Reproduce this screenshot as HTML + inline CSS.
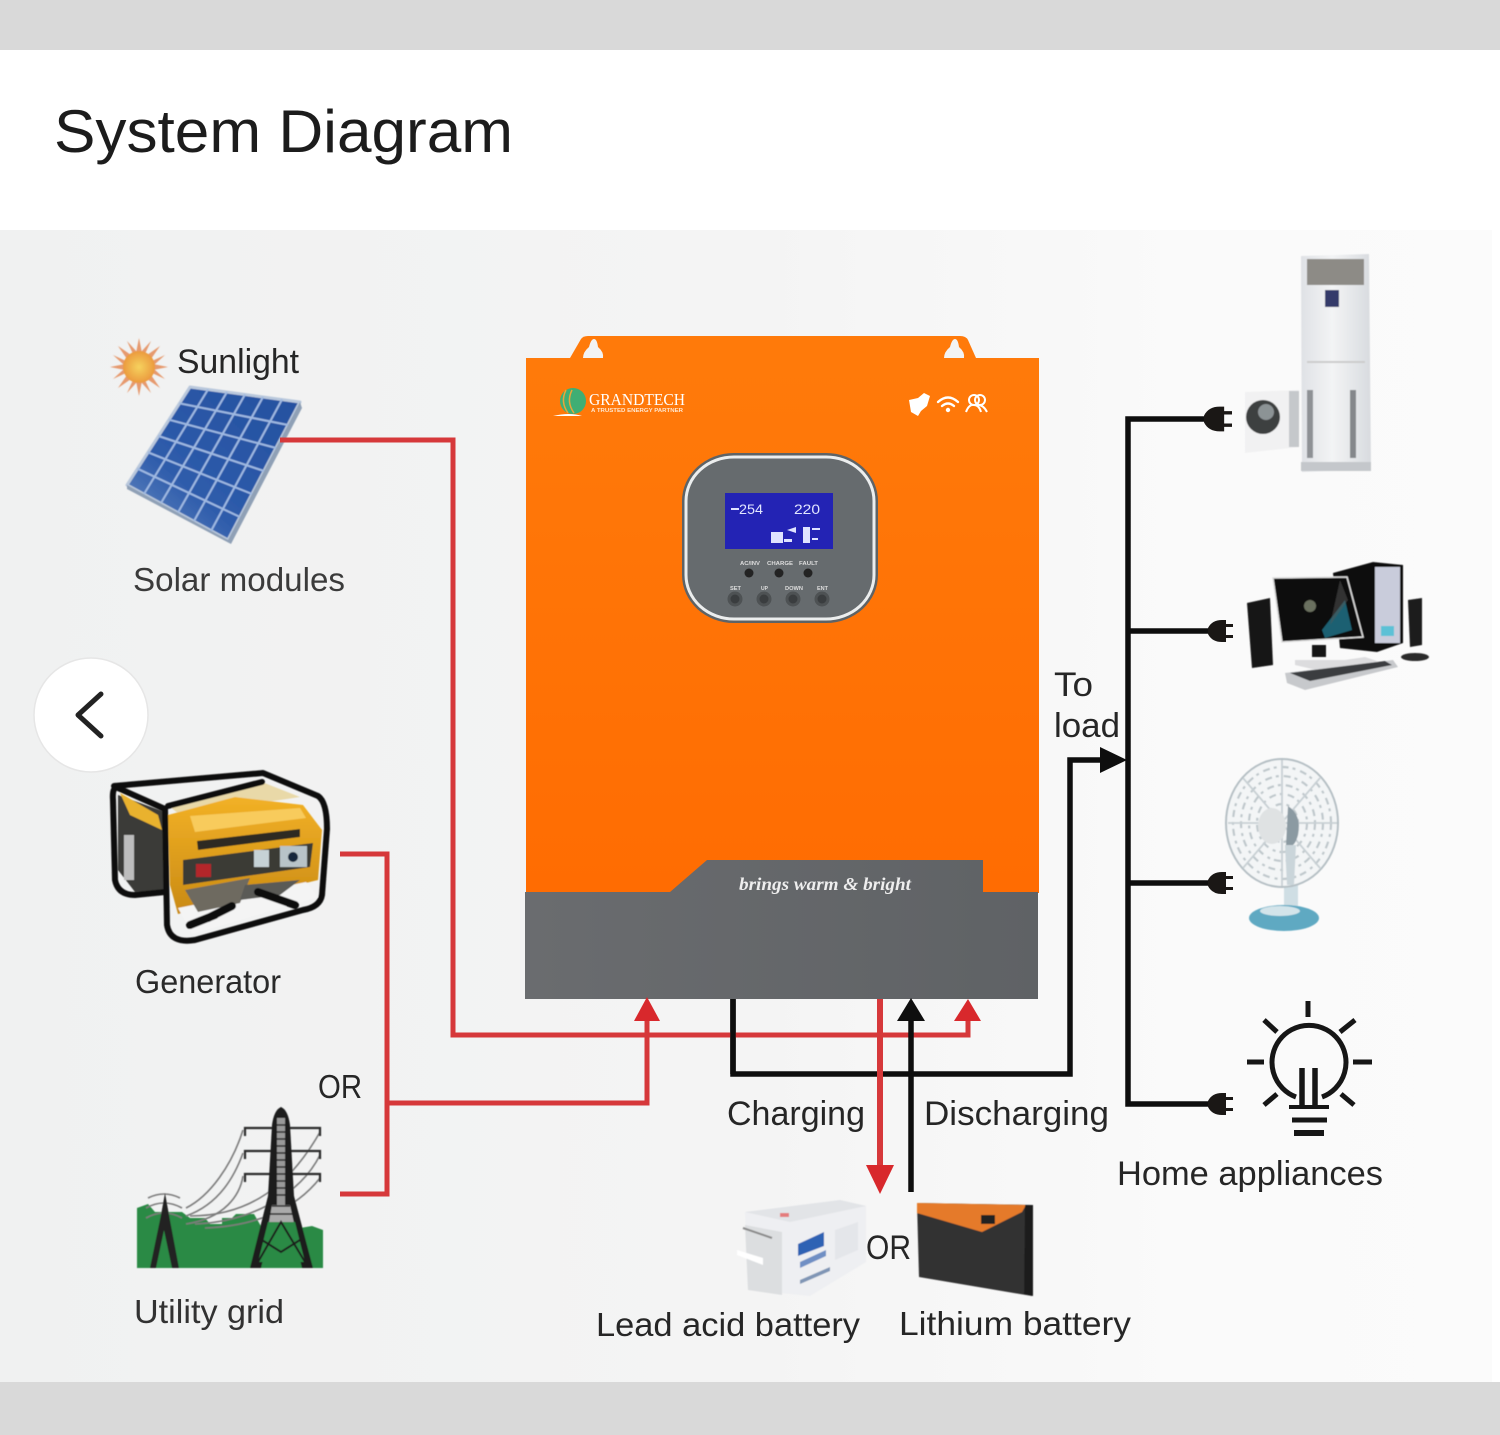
<!DOCTYPE html>
<html><head><meta charset="utf-8"><style>
html,body{margin:0;padding:0;background:#fff}
svg{display:block}
text{font-family:"Liberation Sans",sans-serif;fill:#262626}
</style></head><body>
<svg width="1500" height="1435" viewBox="0 0 1500 1435" xmlns="http://www.w3.org/2000/svg">
<defs>
<linearGradient id="bg" x1="0" y1="0" x2="1" y2="0"><stop offset="0" stop-color="#f0f1f1"/><stop offset=".5" stop-color="#f4f4f4"/><stop offset=".8" stop-color="#fafafa"/><stop offset="1" stop-color="#fbfbfb"/></linearGradient>
<linearGradient id="or" x1="0" y1="0" x2="0" y2="1"><stop offset="0" stop-color="#ff7a0a"/><stop offset="1" stop-color="#ff6c02"/></linearGradient>
<linearGradient id="gy" x1="0" y1="0" x2="1" y2="0"><stop offset="0" stop-color="#6a6c6f"/><stop offset="1" stop-color="#5f6265"/></linearGradient>
<linearGradient id="yl" x1="0" y1="0" x2="0" y2="1"><stop offset="0" stop-color="#f2b126"/><stop offset="1" stop-color="#c98a14"/></linearGradient>
<linearGradient id="wh" x1="0" y1="0" x2="1" y2="0"><stop offset="0" stop-color="#dfe1e5"/><stop offset=".45" stop-color="#f3f4f5"/><stop offset="1" stop-color="#d8dbdf"/></linearGradient>
<linearGradient id="pv" x1="0" y1="1" x2="1" y2="0"><stop offset="0" stop-color="#6c8fc4"/><stop offset=".35" stop-color="#2e5cab"/><stop offset="1" stop-color="#24509f"/></linearGradient>
<radialGradient id="sun"><stop offset="0" stop-color="#f6d25e"/><stop offset="1" stop-color="#eb9a3e"/></radialGradient>
<filter id="b1"><feGaussianBlur stdDeviation="1"/></filter>
<filter id="b05"><feGaussianBlur stdDeviation=".6"/></filter>
<filter id="bt"><feGaussianBlur stdDeviation=".35"/></filter>
<g id="plug"><path d="M0 -3Q4 -11 14 -11H18V-7H25V-4H18V4H25V7H18V11H14Q4 11 0 3Z" fill="#1a1715"/></g>
</defs>
<rect width="1500" height="50" fill="#d9d9d9"/>
<rect y="50" width="1500" height="180" fill="#fff"/>
<rect y="230" width="1492" height="1152" fill="url(#bg)"/>
<rect x="1492" y="230" width="8" height="1152" fill="#fff"/>
<rect y="1382" width="1500" height="53" fill="#d9d9d9"/>

<text x="54" y="152" font-size="60" textLength="459" lengthAdjust="spacingAndGlyphs" style="fill:#1c1c1c">System Diagram</text>

<!-- Sun -->
<g transform="translate(139,367)" filter="url(#b05)">
<g fill="#e69a6e">
<path d="M-3 -14L0 -29L3 -14Z"/><path d="M-3 14L0 29L3 14Z"/><path d="M-14 -3L-29 0L-14 3Z"/><path d="M14 -3L29 0L14 3Z"/>
<path d="M-12 -8L-21 -21L-8 -12Z"/><path d="M12 -8L21 -21L8 -12Z"/><path d="M-12 8L-21 21L-8 12Z"/><path d="M12 8L21 21L8 12Z"/>
<path d="M-6 -13L-12 -26L-2 -15Z"/><path d="M6 -13L12 -26L2 -15Z"/><path d="M-6 13L-12 26L-2 15Z"/><path d="M6 13L12 26L2 15Z"/>
<path d="M-13 -6L-26 -12L-15 -2Z"/><path d="M13 -6L26 -12L15 -2Z"/><path d="M-13 6L-26 12L-15 2Z"/><path d="M13 6L26 12L15 2Z"/>
</g>
<circle r="16" fill="url(#sun)"/>
</g>
<g filter="url(#bt)"><text x="177" y="373" font-size="34" textLength="122" lengthAdjust="spacingAndGlyphs">Sunlight</text></g>
<!-- Solar panel -->
<g filter="url(#b05)">
<path d="M190 387L300 402L228 540L127 485Z" fill="url(#pv)" stroke="#b9c8dc" stroke-width="3" stroke-linejoin="round"/>
<path d="M127 485L228 540L300 402L302 408L231 544L127 489Z" fill="#8fa0b6"/>
<g stroke="#9fb9e2" stroke-width="2" fill="none">
<path d="M208 389.5L144 494M227 392L161 503M245 394.5L178 512.5M263 397L194 521M282 399.5L211 531"/>
<path d="M179.5 403.3L288 425M169 419.7L276 448M158.5 436L264 471M148 452.3L252 494M137.5 468.7L240 517"/>
</g>
</g>
<g filter="url(#bt)"><text x="133" y="591" font-size="33" textLength="212" lengthAdjust="spacingAndGlyphs" style="fill:#3a3a3a">Solar modules</text></g>

<!-- Back button -->
<circle cx="91" cy="715" r="57" fill="#fff" stroke="#e6e6e6" stroke-width="1.5"/>
<path d="M101 694L78 715L101 736" fill="none" stroke="#222" stroke-width="5" stroke-linecap="round" stroke-linejoin="round"/>

<!-- Generator -->
<g filter="url(#b05)">
<path d="M118 795L165 812L168 890L135 892L118 870Z" fill="#3a3a38"/>
<path d="M120 793L158 815L162 830L130 815Z" fill="#e9b22e"/>
<path d="M124 835H134V880H124Z" fill="#bdbdbd"/>
<path d="M168 805L262 782L300 797L180 815Z" fill="#e9d9a8"/>
<path d="M168 815L235 797L303 805L322 830L318 880L178 914L170 885Z" fill="url(#yl)"/>
<path d="M190 816L300 808L306 818L195 832Z" fill="#f8cb5c"/>
<path d="M197 841L300 829L300 837L198 850Z" fill="#2e2a22"/>
<path d="M183 860L313 843L310 867L183 885Z" fill="#3b3a36"/>
<rect x="254" y="850" width="15" height="17" fill="#c6d2d6"/>
<rect x="280" y="846" width="27" height="21" fill="#b8c3c8"/><circle cx="293" cy="857" r="5" fill="#14283a"/>
<rect x="196" y="864" width="15" height="13" fill="#b3262a"/>
<path d="M178 908L306 882L318 897L192 934Z" fill="#f4f4f4"/>
<path d="M185 890L250 878L240 903L198 912Z" fill="#6e6a60"/>
<path d="M245 885L300 880L280 895L240 900Z" fill="#5a5a56"/>
<g fill="none" stroke="#111" stroke-width="6" stroke-linejoin="round" stroke-linecap="round">
<path d="M114 786L263 773L318 796Q327 802 327 829L322 895Q320 907 303 910L195 940Q170 944 167 925L165 809L118 788Q112 786 113 800L115 880Q118 895 135 895L165 892"/>
<path d="M168 806L262 782"/>
<path d="M190 925L215 915M258 892L295 905M208 918L232 906" stroke-width="8"/>
</g></g>
<g filter="url(#bt)"><text x="135" y="993" font-size="33" textLength="146" lengthAdjust="spacingAndGlyphs" style="fill:#2a2a2a">Generator</text></g>

<!-- Utility grid -->
<g filter="url(#b05)">
<path d="M137 1268V1208L148 1204L155 1212H182L190 1218H205L210 1224H222V1218H232L236 1214H254L262 1228H300L312 1226L323 1230V1268Z" fill="#2c8a45"/>
<g fill="none" stroke="#7c7c7c" stroke-width="1.6">
<path d="M186 1208C210 1196 232 1165 243 1130M186 1216C220 1204 235 1175 243 1153M186 1224C225 1218 240 1195 243 1176"/>
<path d="M190 1216C250 1216 290 1185 320 1132M195 1224C250 1222 300 1195 320 1155M205 1228C255 1226 295 1210 320 1178"/>
<path d="M146 1208Q164 1198 182 1208M146 1218Q164 1208 182 1218M148 1198Q164 1190 180 1198"/>
</g>
<g fill="none" stroke="#2a2a2a" stroke-width="2.2">
<path d="M320 1136V1128H245V1136M320 1159V1151H245V1159M320 1182V1174H245V1182"/>
</g>
<path d="M281 1107Q274 1110 272 1125L268 1196L250 1268H261L275 1210H288L302 1268H313L294 1196L290 1125Q288 1110 281 1107Z" fill="#1e1e1e"/>
<path d="M277 1118H285V1205H277Z" fill="#999"/>
<path d="M272 1205H290L300 1250H264Z" fill="#aaa"/>
<g stroke="#222" stroke-width="1.5"><path d="M276 1125H286M276 1132H286M276 1139H286M276 1146H286M276 1153H286M276 1160H286M276 1167H286M276 1174H286M276 1181H286M276 1188H286M276 1195H286M272 1206H290M270 1214H293"/></g>
<path d="M268 1222H295L305 1262H258Z" fill="#2c8a45"/>
<path d="M262 1240L281 1252L300 1240M258 1262L281 1222L305 1262" fill="none" stroke="#1e1e1e" stroke-width="2"/>
<path d="M165 1193L161 1215L150 1268H156L164 1230L172 1268H179L169 1215Z" fill="#222"/>
</g>
<g filter="url(#bt)"><text x="134" y="1323" font-size="33" textLength="150" lengthAdjust="spacingAndGlyphs" style="fill:#333">Utility grid</text>
<text x="318" y="1098" font-size="33" textLength="44" lengthAdjust="spacingAndGlyphs">OR</text></g>

<!-- Inverter -->
<path d="M570 358L581 339Q583 336 588 336H960Q966 336 968 340L976 358Z" fill="#ff7a0a"/>
<path d="M583 358Q583 352 589 347Q591 339 594 339Q597 339 598 347Q604 352 603 358Z" fill="#f3f3f3"/>
<path d="M944 358Q944 352 950 347Q952 339 955 339Q958 339 959 347Q965 352 964 358Z" fill="#f3f3f3"/>
<rect x="526" y="358" width="513" height="535" fill="url(#or)"/>
<path d="M525 892H670L707 860H983V892H1038V999H525Z" fill="url(#gy)"/>
<text x="739" y="890" font-size="18" font-style="italic" font-weight="bold" textLength="172" lengthAdjust="spacingAndGlyphs" style="font-family:'Liberation Serif',serif;fill:#eee">brings warm &amp; bright</text>

<!-- logo -->
<path d="M553 416Q570 412 582 416Z" fill="#fff"/>
<circle cx="573" cy="401" r="13" fill="#3fae74"/>
<path d="M566 390Q560 402 568 413M572 390Q566 402 574 413" fill="none" stroke="#e9a53a" stroke-width="1.5"/>
<text x="589" y="405" font-size="16.5" textLength="96" lengthAdjust="spacingAndGlyphs" style="fill:#fff;font-family:'Liberation Serif',serif">GRANDTECH</text>
<text x="591" y="412" font-size="5" font-weight="bold" textLength="92" lengthAdjust="spacingAndGlyphs" style="fill:#ffe6cf">A TRUSTED ENERGY PARTNER</text>
<!-- icons -->
<g fill="#fff">
<path d="M909 400L918 398L924 393L930 396L927 406L921 411L918 416L911 412Z"/>
<g fill="none" stroke="#fff" stroke-width="2.4" stroke-linecap="round"><path d="M938 402Q948 393 958 402M942 406Q948 401 954 406"/></g>
<circle cx="948" cy="410" r="2.2"/>
<g fill="none" stroke="#fff" stroke-width="2"><circle cx="974" cy="400" r="5"/><circle cx="980" cy="400" r="5"/><path d="M966 412Q969 404 974 405Q979 405 981 412M976 405Q983 404 987 412"/></g>
</g>

<!-- panel -->
<rect x="682" y="453" width="196" height="170" rx="52" ry="48" fill="#5e6366"/>
<rect x="686" y="457" width="188" height="162" rx="48" ry="44" fill="#666b6e" stroke="#eceeee" stroke-width="3"/>
<rect x="725" y="493" width="108" height="56" fill="#2323b4"/>
<g fill="#dfe3ff">
<text x="739" y="514" font-size="14" textLength="24" lengthAdjust="spacingAndGlyphs" style="fill:#e2e6ff">254</text>
<text x="794" y="514" font-size="14" textLength="26" lengthAdjust="spacingAndGlyphs" style="fill:#e2e6ff">220</text>
<rect x="731" y="508" width="8" height="2"/>
<rect x="771" y="532" width="12" height="11"/><rect x="784" y="539" width="8" height="3"/>
<path d="M787 530L796 527V533Z"/><rect x="803" y="527" width="7" height="16"/><rect x="812" y="528" width="8" height="2"/><rect x="812" y="538" width="6" height="2"/>
</g>
<text x="740" y="565" font-size="5" font-weight="bold" textLength="20" lengthAdjust="spacingAndGlyphs" style="fill:#ddd">AC/INV</text>
<text x="767" y="565" font-size="5" font-weight="bold" textLength="26" lengthAdjust="spacingAndGlyphs" style="fill:#ddd">CHARGE</text>
<text x="799" y="565" font-size="5" font-weight="bold" textLength="19" lengthAdjust="spacingAndGlyphs" style="fill:#ddd">FAULT</text>
<g fill="#232323"><circle cx="749" cy="573" r="4.5"/><circle cx="779" cy="573" r="4.5"/><circle cx="808" cy="573" r="4.5"/></g>
<text x="730" y="590" font-size="5" font-weight="bold" textLength="11" lengthAdjust="spacingAndGlyphs" style="fill:#ddd">SET</text>
<text x="761" y="590" font-size="5" font-weight="bold" textLength="7" lengthAdjust="spacingAndGlyphs" style="fill:#ddd">UP</text>
<text x="785" y="590" font-size="5" font-weight="bold" textLength="18" lengthAdjust="spacingAndGlyphs" style="fill:#ddd">DOWN</text>
<text x="817" y="590" font-size="5" font-weight="bold" textLength="11" lengthAdjust="spacingAndGlyphs" style="fill:#ddd">ENT</text>
<g fill="#3a3d3f" stroke="#4e5254" stroke-width="3"><circle cx="735" cy="599" r="6"/><circle cx="764" cy="599" r="6"/><circle cx="793" cy="599" r="6"/><circle cx="822" cy="599" r="6"/></g>

<!-- black base wire -->
<g fill="none" stroke="#0e0e0e" stroke-width="5.5">
<path d="M733 999V1074H1070V760H1103"/>
<path d="M1210 419H1128V1104H1210"/>
<path d="M1128 631H1210M1128 883H1210"/>
</g>
<!-- red wires -->
<g fill="none" stroke="#d6383a" stroke-width="5">
<path d="M280 440H453V1035H968V1018"/>
<path d="M340 854H387V1194H340"/>
<path d="M387 1103H647V1018"/>
<path d="M880 999V1170" stroke-width="6"/>
</g>
<g fill="#d8282c">
<path d="M647 997L660 1021H634Z"/>
<path d="M968 999L981 1021H954Z"/>
<path d="M880 1194L866 1165H894Z"/>
</g>
<!-- black over red -->
<g fill="none" stroke="#0e0e0e" stroke-width="5.5">
<path d="M733 999V1074"/>
<path d="M911 1018V1192"/>
</g>
<g fill="#0e0e0e">
<path d="M911 998L925 1021H897Z"/>
<path d="M1127 760L1100 747V773Z"/>
</g>
<use href="#plug" transform="translate(1204,419) scale(1.12)"/>
<use href="#plug" x="1208" y="631"/>
<use href="#plug" x="1208" y="883"/>
<use href="#plug" x="1208" y="1104"/>

<g filter="url(#bt)">
<text x="1054" y="696" font-size="34" textLength="39" lengthAdjust="spacingAndGlyphs">To</text>
<text x="1054" y="737" font-size="34" textLength="66" lengthAdjust="spacingAndGlyphs">load</text>
<text x="727" y="1125" font-size="34" textLength="138" lengthAdjust="spacingAndGlyphs">Charging</text>
<text x="924" y="1125" font-size="34" textLength="185" lengthAdjust="spacingAndGlyphs">Discharging</text>
</g>

<!-- Lead battery -->
<g filter="url(#b05)">
<path d="M745 1212L840 1200L866 1206V1262L810 1296L748 1290Z" fill="#eeeff2"/>
<path d="M745 1212L840 1200L866 1206L790 1222Z" fill="#e2e4e7"/>
<path d="M745 1225L782 1232V1295L748 1290Z" fill="#dcdee0"/>
<path d="M743 1228L772 1238" stroke="#8a8a8a" stroke-width="2"/>
<path d="M737 1250L763 1258V1265L737 1255Z" fill="#fff"/>
<path d="M798 1244L824 1232V1246L798 1256Z" fill="#2f62b4"/>
<path d="M800 1262L826 1250V1256L800 1268Z" fill="#6f8fc4"/>
<path d="M835 1230L858 1222V1250L835 1260Z" fill="#e4e6ea"/>
<path d="M800 1280L830 1267V1271L800 1284Z" fill="#7f95b5"/>
<rect x="780" y="1213" width="9" height="4" fill="#e47b7b"/>
</g>
<g filter="url(#bt)"><text x="866" y="1259" font-size="34" textLength="45" lengthAdjust="spacingAndGlyphs">OR</text></g>
<!-- Lithium battery -->
<g filter="url(#b05)">
<path d="M917 1203L1032 1205V1296L919 1277Z" fill="#333"/>
<path d="M917 1203L1026 1205L1022 1212L982 1232L917 1213Z" fill="#e57a2a"/>
<path d="M1025 1205H1033V1296L1024 1294Z" fill="#1f1f1f"/>
<rect x="981" y="1215" width="14" height="9" fill="#222"/>
</g>
<g filter="url(#bt)">
<text x="596" y="1336" font-size="33" textLength="264" lengthAdjust="spacingAndGlyphs">Lead acid battery</text>
<text x="899" y="1335" font-size="33" textLength="232" lengthAdjust="spacingAndGlyphs">Lithium battery</text>
</g>

<!-- AC + washer -->
<g filter="url(#b05)">
<path d="M1301 256L1369 254L1371 470L1302 472Z" fill="url(#wh)"/>
<rect x="1307" y="259" width="57" height="26" fill="#8d8b86"/>
<rect x="1325" y="290" width="14" height="17" fill="#363a6a"/>
<rect x="1307" y="361" width="58" height="2" fill="#ccc"/>
<rect x="1307" y="390" width="6" height="68" fill="#8e9195"/>
<rect x="1350" y="390" width="6" height="68" fill="#84878b"/>
<rect x="1301" y="462" width="70" height="9" fill="#c4c7cb"/>
<path d="M1245 392L1299 390V447L1245 453Z" fill="#f1f1f2"/>
<rect x="1289" y="391" width="10" height="56" fill="#c5c8cb"/>
<circle cx="1263" cy="417" r="17" fill="#3c3f40"/><circle cx="1266" cy="412" r="8" fill="#8c9395"/>
</g>
<!-- Computer -->
<g filter="url(#b05)">
<path d="M1333 573L1373 562L1403 565V643L1377 652L1340 648Z" fill="#111"/>
<rect x="1375" y="567" width="25" height="76" fill="#c9ccdb"/>
<rect x="1381" y="626" width="13" height="10" fill="#5cc1d6"/>
<path d="M1273 578L1347 577L1363 637L1282 642Z" fill="#0a0a0a" stroke="#ddd" stroke-width="1.5"/>
<path d="M1322 630L1345 600L1352 630L1325 638Z" fill="#1f6a7d" opacity=".9"/>
<path d="M1340 580L1348 600L1330 625Z" fill="#555" opacity=".5"/>
<circle cx="1310" cy="606" r="6" fill="#6b6f5e"/>
<path d="M1247 603L1270 598L1273 665L1252 668Z" fill="#141414"/>
<path d="M1408 600L1422 598L1422 645L1410 647Z" fill="#1b1b1b"/>
<rect x="1312" y="645" width="14" height="12" fill="#141414"/>
<path d="M1295 660H1345L1365 657L1380 662L1325 672L1295 665Z" fill="#dcdcde"/>
<path d="M1285 673L1393 660L1398 667L1305 690L1287 683Z" fill="#c7c9cc"/>
<path d="M1290 673L1385 661L1392 665L1310 681Z" fill="#3a3c40"/>
<ellipse cx="1415" cy="657" rx="14" ry="4" fill="#2a2a2a"/>
</g>
<!-- Fan -->
<g filter="url(#b05)">
<rect x="1284" y="880" width="14" height="28" fill="#cfdee4"/>
<ellipse cx="1284" cy="918" rx="35" ry="13" fill="#5fa9c2"/>
<ellipse cx="1280" cy="911" rx="20" ry="5" fill="#d3e4ea"/>
<ellipse cx="1282" cy="823" rx="56" ry="64" fill="#f3f5f6" stroke="#b5bfc4" stroke-width="2"/>
<g fill="none" stroke="#bfc8cc" stroke-width="2.2" stroke-dasharray="7 4 3 5">
<ellipse cx="1282" cy="823" rx="49" ry="56"/><ellipse cx="1282" cy="823" rx="41" ry="47"/><ellipse cx="1282" cy="823" rx="33" ry="38"/><ellipse cx="1282" cy="823" rx="25" ry="29"/><ellipse cx="1282" cy="823" rx="16" ry="19"/>
</g>
<g stroke="#c8d0d4" stroke-width="1.8"><path d="M1282 760V886M1228 823H1337M1243 778L1320 868M1320 778L1243 868"/></g>
<ellipse cx="1272" cy="826" rx="14" ry="18" fill="#dfe2e3"/>
<path d="M1288 806Q1302 815 1298 835Q1294 850 1286 845Z" fill="#8b9aa2"/>
<path d="M1285 845H1296L1294 885H1287Z" fill="#cad5da"/>
</g>
<!-- Bulb -->
<g fill="none" stroke="#161616" stroke-width="5" stroke-linecap="butt">
<path d="M1296 1097A37 37 0 1 1 1322 1097"/>
<path d="M1308 1001V1017M1264 1020L1277 1032M1355 1020L1340 1032M1247 1062H1264M1353 1062H1372M1264 1105L1277 1094M1354 1105L1341 1094"/>
<path d="M1302 1068V1105M1315 1068V1105" stroke-width="5.5"/>
<path d="M1289 1107H1329" stroke-width="4"/><path d="M1292 1120H1327" stroke-width="5"/><path d="M1294 1133H1324" stroke-width="6"/>
</g>
<g filter="url(#bt)"><text x="1117" y="1185" font-size="34" textLength="266" lengthAdjust="spacingAndGlyphs">Home appliances</text></g>
</svg>
</body></html>
